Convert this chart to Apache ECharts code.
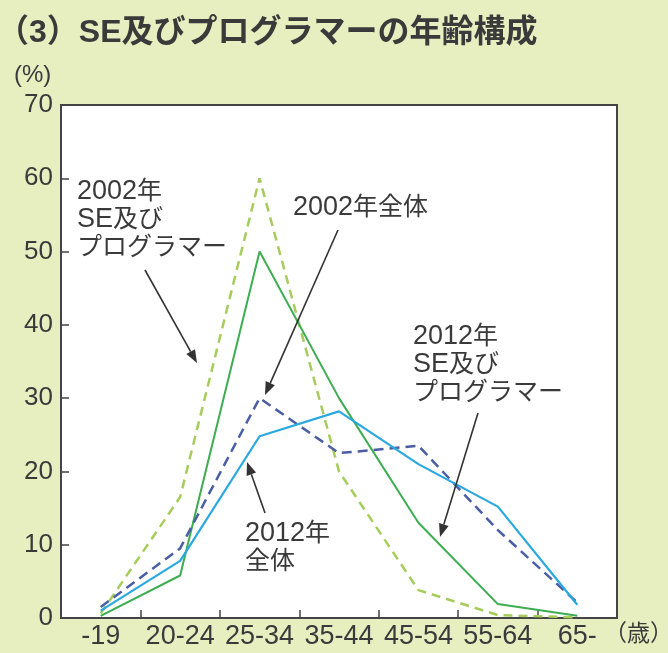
<!DOCTYPE html>
<html><head><meta charset="utf-8">
<script src="https://cdn.jsdelivr.net/npm/echarts@6/dist/echarts.min.js"></script>
<style>html,body{margin:0;padding:0;background:#e7efc1;}#c{width:668px;height:653px;}</style>
</head><body><div id="c"></div>
<script>
const categories = ['-19','20-24','25-34','35-44','45-54','55-64','65-'];
const yTicks = [0,10,20,30,40,50,60,70];
const se2002 = [0.6, 16.5, 60, 20, 3.8, 0.4, 0.1];
const se2012 = [0.3, 5.8, 50, 30, 13, 1.9, 0.3];
const all2002 = [1.5, 9.5, 30, 22.5, 23.5, 12, 2.1];
const all2012 = [1.0, 7.8, 24.8, 28.2, 21, 15.2, 1.8];

const FONT = '"Liberation Sans", "Noto Sans CJK JP", sans-serif';
const TXT = '#3a3a3a';

function arrow(x1,y1,x2,y2){
  const a = Math.atan2(y2-y1,x2-x1), c=Math.cos(a), s=Math.sin(a);
  const L=13, W=5;
  const bx=x2-L*c, by=y2-L*s;
  return [
    {type:'line', shape:{x1:x1,y1:y1,x2:bx,y2:by}, style:{stroke:'#333',lineWidth:1.6}, z:50},
    {type:'polygon', shape:{points:[[x2,y2],[bx+W*s,by-W*c],[bx-W*s,by+W*c]]}, style:{fill:'#333'}, z:50}
  ];
}
const RICH = {
  n:{fontSize:27, fontFamily:FONT, fill:TXT, lineHeight:28},
  c:{fontSize:25, fontFamily:FONT, fill:TXT, lineHeight:28}
};
function note(text,x,y){
  return {type:'text', x:x, y:y, z:50, style:{text:text, fill:TXT, fontSize:25, fontFamily:FONT, lineHeight:28, rich:RICH, textVerticalAlign:'top'}};
}
function label(text,x,y,size,weight){
  return {type:'text', x:x, y:y, z:50, style:{text:text, fill:TXT, fontSize:size, fontFamily:FONT, fontWeight:weight||'normal', textVerticalAlign:'top'}};
}

const chart = echarts.init(document.getElementById('c'));
chart.setOption({
  backgroundColor:'#e7efc1',
  animation:false,
  grid:{left:61,right:51,top:105,bottom:35,show:true,backgroundColor:'#ffffff',borderColor:'#444',borderWidth:2},
  xAxis:{type:'category',data:categories,boundaryGap:true,
    axisLine:{show:true,lineStyle:{color:'#444',width:2}},
    axisTick:{show:true,inside:true,length:8,lineStyle:{color:'#444',width:1.5}},
    axisLabel:{interval:0,color:TXT,fontSize:27,fontFamily:FONT,margin:5,hideOverlap:false}},
  yAxis:{type:'value',min:0,max:70,interval:10,
    axisLine:{show:true,lineStyle:{color:'#444',width:2}},
    axisTick:{show:true,inside:true,length:8,lineStyle:{color:'#444',width:1.5}},
    splitLine:{show:false},
    axisLabel:{color:TXT,fontSize:26,fontFamily:FONT,margin:8}},
  series:[
    {name:'2002年SE及びプログラマー',type:'line',data:se2002,symbol:'none',lineStyle:{color:'#a6cd5c',width:2.5,type:[9,6]}},
    {name:'2012年SE及びプログラマー',type:'line',data:se2012,symbol:'none',lineStyle:{color:'#3dad52',width:2}},
    {name:'2002年全体',type:'line',data:all2002,symbol:'none',lineStyle:{color:'#4a5ea6',width:2.5,type:[10,6]}},
    {name:'2012年全体',type:'line',data:all2012,symbol:'none',lineStyle:{color:'#2aa8e0',width:2.2}}
  ],
  graphic:[].concat(
    [label('（3）SE及びプログラマーの年齢構成',-3,17,32,'bold')],
    [label('(%)',14,63,24)],
    [label('（歳）',604,623,23)],
    [note('{n|2002}{c|年}\n{n|SE}{c|及び}\n{c|プログラマー}',77,178)], arrow(145,270,197,363),
    [note('{n|2002}{c|年全体}',293,194)], arrow(338,230,265,395),
    [note('{n|2012}{c|年}\n{n|SE}{c|及び}\n{c|プログラマー}',413,323)], arrow(478,413,440,537),
    [note('{n|2012}{c|年}\n{c|全体}',245,520)], arrow(265,513,247,462)
  )
});
</script></body></html>
